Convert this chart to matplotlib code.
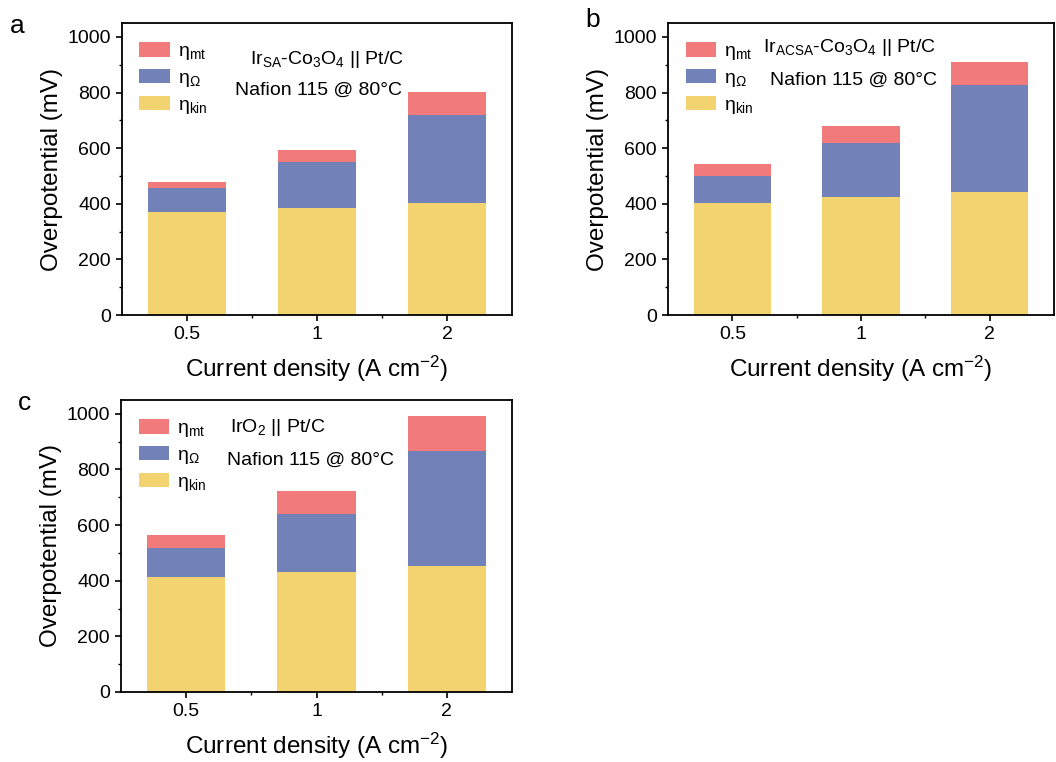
import matplotlib
matplotlib.use("Agg")
import matplotlib.pyplot as plt
from matplotlib.ticker import MultipleLocator, FixedLocator

plt.rcParams["font.family"] = ["Liberation Sans", "DejaVu Sans"]
plt.rcParams["mathtext.fontset"] = "custom"
plt.rcParams["mathtext.rm"] = "Liberation Sans"
plt.rcParams["mathtext.it"] = "Liberation Sans:italic"
plt.rcParams["mathtext.bf"] = "Liberation Sans:bold"

RED = "#f17a7a"
BLUE = "#7282b8"
YELLOW = "#f3d370"

currents = ["0.5", "1", "2"]

# panel a: Ir_SA-Co3O4
kin_a = [370, 385, 403]
ohm_a = [88, 164, 316]
mt_a = [20, 45, 83]

# panel b: Ir_ACSA-Co3O4
kin_b = [404, 424, 444]
ohm_b = [97, 193, 383]
mt_b = [42, 63, 83]

# panel c: IrO2
kin_c = [413, 431, 453]
ohm_c = [105, 210, 412]
mt_c = [47, 83, 129]


def panel(ax, kin, ohm, mt, line1, letter, t1x, t2x, t1y, t2y, lx, ly):
    x = range(len(currents))
    ax.bar(x, kin, width=0.6, color=YELLOW, label=r"η$_{\mathrm{kin}}$")
    ax.bar(x, ohm, width=0.6, bottom=kin, color=BLUE, label=r"η$_{\mathrm{Ω}}$")
    top = [k + o for k, o in zip(kin, ohm)]
    ax.bar(x, mt, width=0.6, bottom=top, color=RED, label=r"η$_{\mathrm{mt}}$")
    ax.set_xlim(-0.5, 2.5)
    ax.set_ylim(0, 1050)
    ax.set_xticks(list(x))
    ax.set_xticklabels(currents)
    ax.xaxis.set_minor_locator(FixedLocator([0.5, 1.5]))
    ax.yaxis.set_major_locator(MultipleLocator(200))
    ax.yaxis.set_minor_locator(MultipleLocator(100))
    ax.tick_params(axis="both", which="major", labelsize=14, length=4.5, width=1.2, direction="out")
    ax.tick_params(axis="both", which="minor", length=2.5, width=1.0, direction="out")
    for s in ax.spines.values():
        s.set_linewidth(1.3)
    ax.set_ylabel("Overpotential (mV)", fontsize=17.5, labelpad=3)
    ax.set_xlabel(r"Current density (A cm$^{-2}$)", fontsize=17.5, labelpad=8)
    h, l = ax.get_legend_handles_labels()
    ax.legend(h[::-1], l[::-1], loc="upper left", bbox_to_anchor=(0.0, 0.995), frameon=False,
              fontsize=14, handlelength=1.55, handleheight=0.78, labelspacing=0.35,
              handletextpad=0.45, borderaxespad=0.5)
    ax.text(t1x, t1y, line1, transform=ax.transAxes, ha="center", va="center", fontsize=14)
    ax.text(t2x, t2y, "Nafion 115 @ 80°C", transform=ax.transAxes, ha="center", va="center", fontsize=14)
    ax.text(lx, ly, letter, transform=ax.transAxes, ha="left", va="center", fontsize=19)


fig = plt.figure(figsize=(10.56, 7.62), dpi=100)
ax_a = fig.add_axes([0.1155, 0.5866, 0.3693, 0.3832])
ax_b = fig.add_axes([0.6326, 0.5866, 0.3655, 0.3832])
ax_c = fig.add_axes([0.1146, 0.0919, 0.3703, 0.3832])

panel(ax_a, kin_a, ohm_a, mt_a, r"Ir$_{\mathrm{SA}}$-Co$_3$O$_4$ || Pt/C", "a",
      0.525, 0.505, 0.875, 0.77, -0.287, 0.99)
panel(ax_b, kin_b, ohm_b, mt_b, r"Ir$_{\mathrm{ACSA}}$-Co$_3$O$_4$ || Pt/C", "b",
      0.47, 0.48, 0.915, 0.805, -0.214, 1.01)
panel(ax_c, kin_c, ohm_c, mt_c, r"IrO$_2$ || Pt/C", "c",
      0.40, 0.485, 0.905, 0.795, -0.263, 0.99)

fig.savefig("out.png", dpi=100, facecolor="white")
